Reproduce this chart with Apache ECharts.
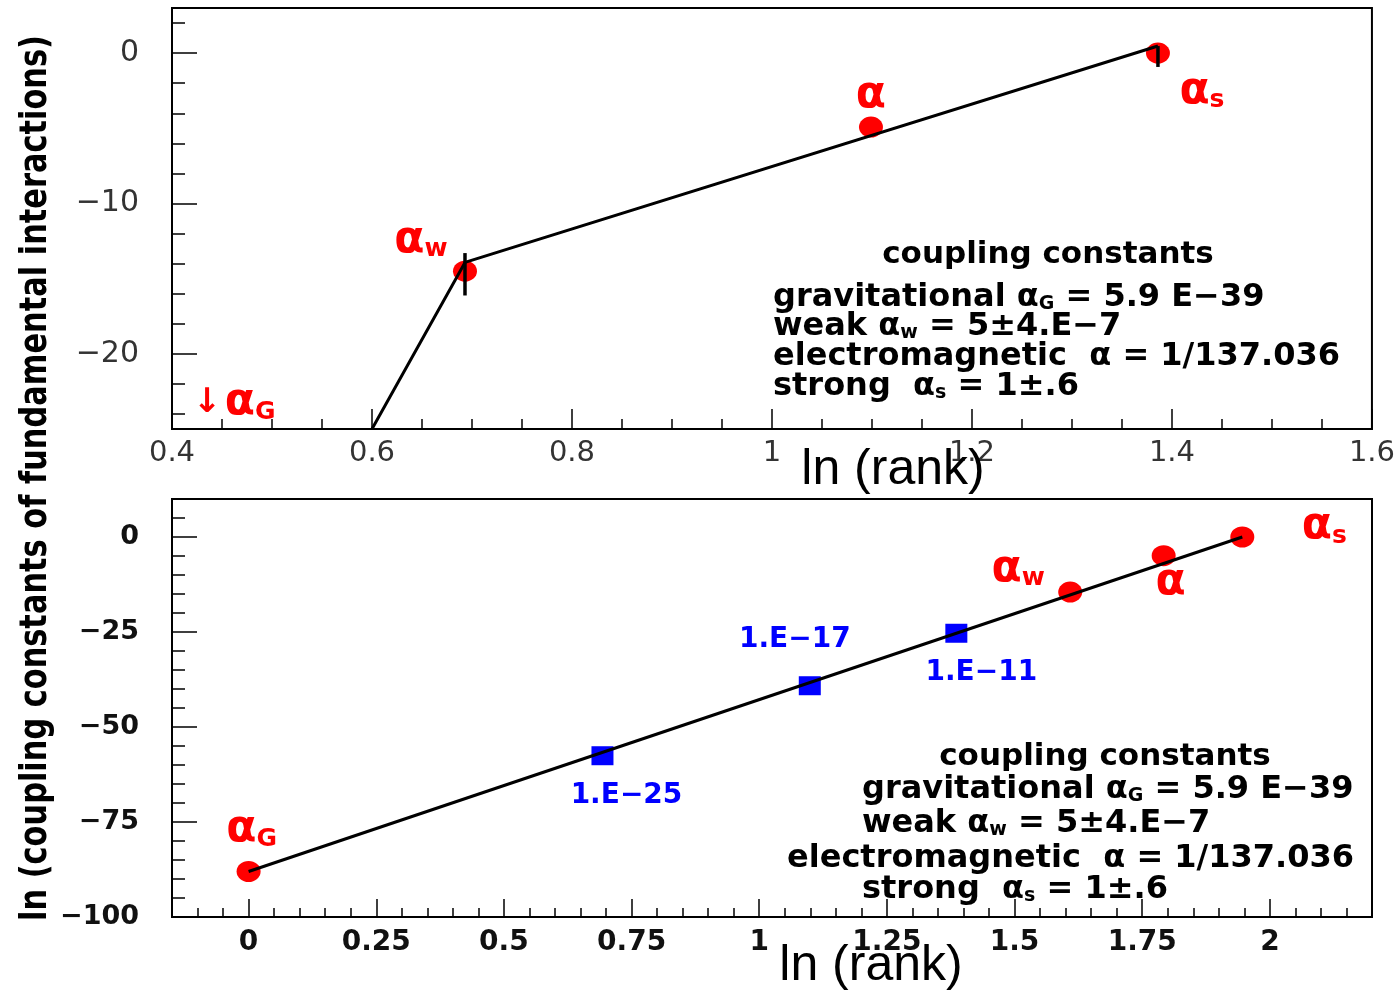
<!DOCTYPE html>
<html>
<head>
<meta charset="utf-8">
<script src="https://cdn.jsdelivr.net/npm/echarts@6/dist/echarts.min.js"></script>
<style>
  html, body { margin: 0; padding: 0; background: #fff; }
  #chart { width: 1398px; height: 994px; }
</style>
</head>
<body>
<div id="chart"></div>
<script>
// ---------- upper panel: the three measured couplings ----------
const topRankLn = [0.693, 1.099, 1.386];
const topCouplingLn = [-14.5, -4.92, 0.0];
const topSubs = ['w', '', 's'];
// broken line through the upper ends of the error bars
const topLineX = [0.6, 0.693, 1.386];
const topLineY = [-25, -13.92, 0.47];
// error bars: position, lower end, upper end
const topErrX = [0.693, 1.386];
const topErrLow = [-16.12, -0.92];
const topErrHigh = [-13.3, 0.47];

// ---------- lower panel: all four couplings plus the intermediate ones ----------
const botRankLn = [0.0, 1.609, 1.792, 1.946];
const botCouplingLn = [-88.03, -14.5, -4.92, 0.0];
const botSubs = ['G', 'w', '', 's'];
const midRankLn = [0.693, 1.099, 1.386];
const midCouplingLn = [-57.56, -39.14, -25.33];
const midNames = ['1.E\u221225', '1.E\u221217', '1.E\u221211'];
const botLineX = [0.0, 1.946];
const botLineY = [-88.03, 0.0];

// ---------- tick values and labels ----------
const topXTicks = [0.4, 0.6, 0.8, 1.0, 1.2, 1.4, 1.6];
const topXLabels = ['0.4', '0.6', '0.8', '1', '1.2', '1.4', '1.6'];
const topYTicks = [0, -10, -20];
const topYLabels = ['0', '\u221210', '\u221220'];
const botXTicks = [0, 0.25, 0.5, 0.75, 1.0, 1.25, 1.5, 1.75, 2.0];
const botXLabels = ['0', '0.25', '0.5', '0.75', '1', '1.25', '1.5', '1.75', '2'];
const botYTicks = [0, -25, -50, -75, -100];
const botYLabels = ['0', '\u221225', '\u221250', '\u221275', '\u2212100'];

// label placement relative to each marker (pixels)
const topLabelOffsets = [[-44, -31], [0, -32], [44, 38]];
const botLabelOffsets = [[3, -42], [-52, -23], [7, 27], [82, -10]];
const midLabelOffsets = [[24, 40], [-15, -46], [25, 39]];

function steps(min, max, step) {
  const out = [];
  const n = Math.round((max - min) / step);
  for (let i = 0; i <= n; i++) out.push(+(min + i * step).toFixed(6));
  return out;
}
function labelOf(ticks, labels) {
  return v => {
    const i = ticks.findIndex(t => Math.abs(t - v) < 1e-6);
    return i >= 0 ? labels[i] : '';
  };
}

const RED = '#ff0000';
const BLUE = '#0000ff';
const FONT = 'DejaVu Sans';

function majorAxis(opt) {
  return {
    type: 'value', gridIndex: opt.grid, min: opt.min, max: opt.max, position: opt.pos,
    axisLine: { show: true, onZero: false, lineStyle: { color: '#000', width: 2 } },
    axisTick: { show: true, inside: true, length: opt.tick, customValues: opt.ticks,
                lineStyle: { color: '#000', width: 1.5 } },
    axisLabel: { show: true, customValues: opt.ticks, formatter: labelOf(opt.ticks, opt.labels),
                 margin: opt.margin, color: opt.color, fontFamily: FONT, fontSize: opt.size,
                 fontWeight: opt.weight, showMinLabel: true, showMaxLabel: true, hideOverlap: false },
    splitLine: { show: false }
  };
}
function minorAxis(opt) {
  return {
    type: 'value', gridIndex: opt.grid, min: opt.min, max: opt.max, position: opt.pos,
    axisLine: { show: false, onZero: false },
    axisTick: { show: true, inside: true, length: opt.tick, customValues: opt.ticks,
                lineStyle: { color: '#000', width: 1.5 } },
    axisLabel: { show: false },
    splitLine: { show: false }
  };
}

const alphaRich = {
  a: { fontFamily: FONT, fontWeight: 'bold', fontSize: 44, color: RED },
  s: { fontFamily: FONT, fontWeight: 'bold', fontSize: 25, color: RED, verticalAlign: 'bottom' }
};
function alphaLabel(sub) {
  return sub ? '{a|\u03b1}{s|' + sub + '}' : '{a|\u03b1}';
}
function pointsWithLabels(xs, ys, subs, offsets) {
  return xs.map((x, i) => ({
    value: [x, ys[i]],
    label: { show: true, position: 'inside', offset: offsets[i],
             formatter: alphaLabel(subs[i]), rich: alphaRich }
  }));
}

const xAxes = [
  majorAxis({ grid: 0, min: 0.4, max: 1.6, pos: 'bottom', ticks: topXTicks, labels: topXLabels,
              tick: 20, margin: 10, color: '#333', size: 29, weight: 'normal' }),
  minorAxis({ grid: 0, min: 0.4, max: 1.6, pos: 'bottom', ticks: steps(0.4, 1.6, 0.05), tick: 10 }),
  majorAxis({ grid: 1, min: -0.15, max: 2.2, pos: 'bottom', ticks: botXTicks, labels: botXLabels,
              tick: 18, margin: 12, color: '#111', size: 28, weight: 'bold' }),
  minorAxis({ grid: 1, min: -0.15, max: 2.2, pos: 'bottom', ticks: steps(-0.15, 2.2, 0.05), tick: 9 })
];
const yAxes = [
  majorAxis({ grid: 0, min: -25, max: 3, pos: 'left', ticks: topYTicks, labels: topYLabels,
              tick: 25, margin: 33, color: '#333', size: 30, weight: 'normal' }),
  minorAxis({ grid: 0, min: -25, max: 3, pos: 'left', ticks: steps(-24, 2, 2), tick: 13 }),
  majorAxis({ grid: 1, min: -100, max: 10, pos: 'left', ticks: botYTicks, labels: botYLabels,
              tick: 25, margin: 33, color: '#111', size: 27, weight: 'bold' }),
  minorAxis({ grid: 1, min: -100, max: 10, pos: 'left', ticks: steps(-95, 5, 5), tick: 13 })
];

function errorBars(xs, lows, highs) {
  return {
    type: 'custom', xAxisIndex: 0, yAxisIndex: 0, z: 5,
    data: xs.map((x, i) => [x, lows[i], highs[i]]),
    encode: { x: 0, y: [1, 2] },
    renderItem: (params, api) => {
      const p1 = api.coord([api.value(0), api.value(1)]);
      const p2 = api.coord([api.value(0), api.value(2)]);
      return { type: 'line', shape: { x1: p1[0], y1: p1[1], x2: p2[0], y2: p2[1] },
               style: { stroke: '#000', lineWidth: 3.5 } };
    }
  };
}

const series = [
  { type: 'scatter', xAxisIndex: 0, yAxisIndex: 0, z: 2, symbol: 'circle', symbolSize: [24, 21],
    itemStyle: { color: RED, opacity: 1 },
    data: pointsWithLabels(topRankLn, topCouplingLn, topSubs, topLabelOffsets) },
  { type: 'line', xAxisIndex: 0, yAxisIndex: 0, z: 4, symbol: 'none', clip: true,
    lineStyle: { color: '#000', width: 3 }, data: topLineX.map((x, i) => [x, topLineY[i]]) },
  errorBars(topErrX, topErrLow, topErrHigh),

  { type: 'scatter', xAxisIndex: 2, yAxisIndex: 2, z: 2, symbol: 'circle', symbolSize: [24, 21],
    itemStyle: { color: RED, opacity: 1 },
    data: pointsWithLabels(botRankLn, botCouplingLn, botSubs, botLabelOffsets) },
  { type: 'scatter', xAxisIndex: 2, yAxisIndex: 2, z: 2, symbol: 'rect', symbolSize: [22, 19],
    itemStyle: { color: BLUE, opacity: 1 },
    data: midRankLn.map((x, i) => ({
      value: [x, midCouplingLn[i]],
      label: { show: true, position: 'inside', offset: midLabelOffsets[i], formatter: midNames[i],
               fontFamily: FONT, fontWeight: 'bold', fontSize: 28, color: BLUE }
    })) },
  { type: 'line', xAxisIndex: 2, yAxisIndex: 2, z: 4, symbol: 'none',
    lineStyle: { color: '#000', width: 3 }, data: botLineX.map((x, i) => [x, botLineY[i]]) }
];

// explanatory text blocks
const legendRich = {
  g: { fontFamily: FONT, fontWeight: 'bold', fontSize: 32, fill: '#000' },
  s: { fontFamily: FONT, fontWeight: 'bold', fontSize: 19, fill: '#000', verticalAlign: 'bottom' }
};
function txt(text, x, y, align, size) {
  return { type: 'text', x: x, y: y, z: 10,
           style: { text: text, rich: legendRich, fill: '#000',
                    font: 'bold ' + (size || 32) + 'px "DejaVu Sans"', align: align || 'left', verticalAlign: 'middle' } };
}
const legendLines = [
  'gravitational {g|\u03b1}{s|G} = 5.9 E\u221239',
  'weak {g|\u03b1}{s|w} = 5\u00b14.E\u22127',
  'electromagnetic  {g|\u03b1} = 1/137.036',
  'strong  {g|\u03b1}{s|s} = 1\u00b1.6'
];

const graphics = [
  txt('coupling constants', 1048, 255, 'center', 31),
  txt(legendLines[0], 773, 298),
  txt(legendLines[1], 773, 327),
  txt(legendLines[2], 773, 357),
  txt(legendLines[3], 773, 387),
  txt('coupling constants', 1105, 757, 'center', 31),
  txt(legendLines[0], 862, 790),
  txt(legendLines[1], 862, 824),
  txt(legendLines[2], 787, 859),
  txt(legendLines[3], 862, 890),
  // gravitational coupling lies far below the upper panel
  { type: 'text', x: 193, y: 403, z: 10,
    style: { text: '{r|\u2193} {a|\u03b1}{s|G}',
             rich: {
               r: { fontFamily: FONT, fontWeight: 'bold', fontSize: 34, fill: RED },
               a: { fontFamily: FONT, fontWeight: 'bold', fontSize: 44, fill: RED },
               s: { fontFamily: FONT, fontWeight: 'bold', fontSize: 25, fill: RED, verticalAlign: 'bottom' }
             },
             fill: RED, verticalAlign: 'middle', align: 'left' } },
  // axis titles
  { type: 'text', x: 893, y: 470, z: 10,
    style: { text: 'ln (rank)', font: '50px "Liberation Sans"', fill: '#000', align: 'center', verticalAlign: 'middle' } },
  { type: 'text', x: 871, y: 966, z: 10,
    style: { text: 'ln (rank)', font: '50px "Liberation Sans"', fill: '#000', align: 'center', verticalAlign: 'middle' } },
  { type: 'text', x: 36, y: 478, z: 10, rotation: Math.PI / 2, scaleX: 0.8,
    style: { text: 'ln (coupling constants of fundamental interactions)', font: 'bold 38px "DejaVu Sans"',
             fill: '#000', align: 'center', verticalAlign: 'middle' } }
];

const chart = echarts.init(document.getElementById('chart'), null, { renderer: 'canvas' });
chart.setOption({
  animation: false,
  backgroundColor: '#fff',
  grid: [
    { left: 172, top: 8, width: 1200, height: 421, show: true, borderColor: '#000', borderWidth: 2, containLabel: false },
    { left: 172, top: 499, width: 1200, height: 418, show: true, borderColor: '#000', borderWidth: 2, containLabel: false }
  ],
  xAxis: xAxes,
  yAxis: yAxes,
  series: series,
  graphic: graphics
});
</script>
</body>
</html>
